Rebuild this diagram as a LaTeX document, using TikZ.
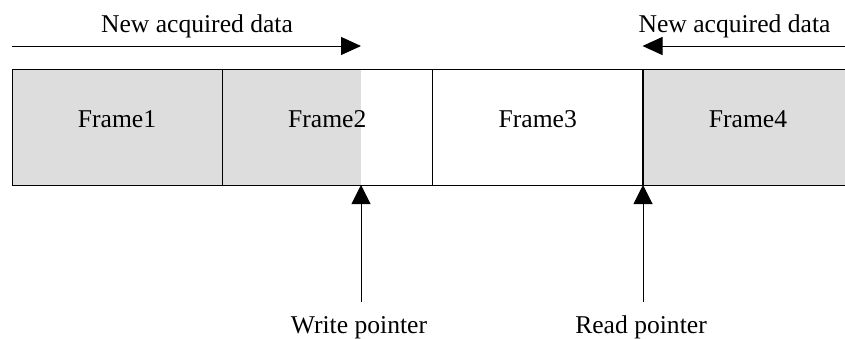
\documentclass[tikz,border=0pt]{standalone}
\usepackage{fontspec}
\setmainfont{Liberation Serif}
\usetikzlibrary{arrows.meta, calc}
\definecolor{frameGray}{RGB}{221,221,221}

\begin{document}
\begin{tikzpicture}[
  x=0.5pt, y=-0.5pt,
  font=\fontsize{12.8}{15}\selectfont,
  frame/.style={draw=black, line width=0.5pt, minimum width=105pt,
    minimum height=58pt, inner sep=0pt, text height=0.7em, text depth=0.7em},
  feed/.style={draw=black, line width=0.5pt,
    -{Triangle[length=10pt, width=9pt]}},
  ptr/.style={draw=black, line width=0.5pt,
    -{Triangle[length=9.5pt, width=9.5pt]}},
  lbl/.style={anchor=base, inner sep=0pt},
]
  \useasboundingbox (0,0) rectangle (845,338);

  % pointer positions on the lower edge of the buffer
  \coordinate (wp) at (361,185);
  \coordinate (rp) at (643,185);

  % part of Frame2 already written
  \fill[frameGray] (222,69) rectangle (wp);

  \node[frame, fill=frameGray] (f1) at (117,127)    {Frame1};
  \node[frame]                 (f2) at (327.25,127) {Frame2};
  \node[frame]                 (f3) at (537.75,127) {Frame3};
  \node[frame, fill=frameGray] (f4) at (748,127)    {Frame4};

  % incoming data from both sides
  \node[lbl] (newL) at (197,32)   {New acquired data};
  \node[lbl] (newR) at (734.5,32) {New acquired data};
  \coordinate (inL) at (12,46);
  \coordinate (inR) at (845,46);
  \draw[feed] (inL) -- (wp |- inL);
  \draw[feed] (inR) -- (f4.north west |- inR);

  % write and read pointers
  \node[lbl] (wlabel) at (359,333) {Write pointer};
  \node[lbl] (rlabel) at (641,333) {Read pointer};
  \coordinate (wtail) at (361,302);
  \coordinate (rtail) at (643,302);
  \draw[ptr] (wtail) -- (wp);
  \draw[ptr] (rtail) -- (rp);
\end{tikzpicture}
\end{document}
